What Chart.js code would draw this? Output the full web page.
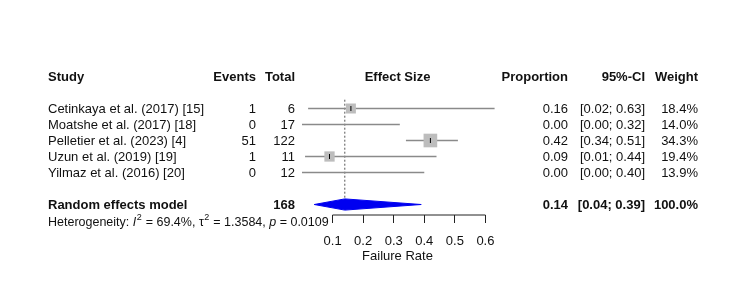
<!DOCTYPE html>
<html>
<head>
<meta charset="utf-8">
<script src="https://cdn.jsdelivr.net/npm/chart.js@4"></script>
<style>
  html, body { margin: 0; padding: 0; background: #fff; }
  canvas { display: block; }
</style>
</head>
<body>
<canvas id="forestChart" width="750" height="302"></canvas>
<script>
// Study data
const studyNames = [
    'Cetinkaya et al. (2017) [15]',
    'Moatshe et al. (2017) [18]',
    'Pelletier et al. (2023) [4]',
    'Uzun et al. (2019) [19]',
    'Yilmaz et al. (2016) [20]'
];
const events = [1, 0, 51, 1, 0];
const totals = [6, 17, 122, 11, 12];
const proportions = [0.16, 0.00, 0.42, 0.09, 0.00];
const ciLower = [0.02, 0.00, 0.34, 0.01, 0.00];
const ciUpper = [0.63, 0.32, 0.51, 0.44, 0.40];
const weights = [18.4, 14.0, 34.3, 19.4, 13.9];

// Pooled (random effects) result
const pooledLabel = 'Random effects model';
const pooledTotal = 168;
const pooledEstimate = 0.14;
const pooledLower = 0.04;
const pooledUpper = 0.39;
const pooledWeight = 100.0;

// Heterogeneity
const hetI2 = '69.4%';
const hetTau2 = '1.3584';
const hetP = '0.0109';

// Axis
const xTicks = [0.1, 0.2, 0.3, 0.4, 0.5, 0.6];
const xTitle = 'Failure Rate';
const headers = ['Study', 'Events', 'Total', 'Effect Size', 'Proportion', '95%-CI', 'Weight'];

const FONT = "'Liberation Sans', Arial, sans-serif";
const FS = 13;
const HEADER_ROW = 0;
const FIRST_STUDY_ROW = 2;
const POOLED_ROW = 8;
const HET_ROW = 9;
const Y_MIN = -1;
const Y_MAX = 8.656;

const fmt2 = v => v.toFixed(2);
const fmtCI = (lo, hi) => `[${fmt2(lo)}; ${fmt2(hi)}]`;

// Build datasets (first dataset is drawn on top)
const datasets = [];

const estPoints = [];
const boxPoints = [];
const boxRadius = [];
studyNames.forEach((name, i) => {
    if (events[i] > 0) {
        estPoints.push({ x: proportions[i], y: FIRST_STUDY_ROW + i });
        boxPoints.push({ x: proportions[i], y: FIRST_STUDY_ROW + i });
        const side = 2.33 * Math.sqrt(weights[i]);
        boxRadius.push(side / Math.SQRT2);
    }
});

// small black tick at each estimate
datasets.push({
    data: estPoints,
    pointStyle: 'line',
    rotation: 90,
    pointRadius: 2.5,
    borderColor: '#000',
    borderWidth: 1,
    clip: false
});

// weight boxes
datasets.push({
    data: boxPoints,
    pointStyle: 'rect',
    pointRadius: boxRadius,
    backgroundColor: '#bdbdbd',
    borderWidth: 0,
    clip: false
});

// confidence interval lines
studyNames.forEach((name, i) => {
    datasets.push({
        data: [
            { x: ciLower[i], y: FIRST_STUDY_ROW + i },
            { x: ciUpper[i], y: FIRST_STUDY_ROW + i }
        ],
        showLine: true,
        borderColor: '#8a8a8a',
        borderWidth: 1.6,
        pointRadius: 0,
        clip: false
    });
});

// pooled diamond
datasets.push({
    data: [
        { x: pooledLower, y: POOLED_ROW },
        { x: pooledEstimate, y: POOLED_ROW - 0.35 },
        { x: pooledUpper, y: POOLED_ROW },
        { x: pooledEstimate, y: POOLED_ROW + 0.35 },
        { x: pooledLower, y: POOLED_ROW }
    ],
    showLine: true,
    fill: 'shape',
    backgroundColor: '#0000f0',
    borderColor: '#0000f0',
    borderWidth: 1,
    pointRadius: 0,
    clip: false
});

// dashed line at pooled estimate
datasets.push({
    data: [
        { x: pooledEstimate, y: 1.45 },
        { x: pooledEstimate, y: POOLED_ROW - 0.3 }
    ],
    showLine: true,
    borderColor: '#555',
    borderWidth: 1,
    borderDash: [2, 2],
    pointRadius: 0,
    clip: false
});

// x axis line from first to last tick
datasets.push({
    data: [
        { x: xTicks[0], y: Y_MAX },
        { x: xTicks[xTicks.length - 1], y: Y_MAX }
    ],
    showLine: true,
    borderColor: '#222',
    borderWidth: 1,
    pointRadius: 0,
    clip: false
});

// Text table drawn next to the plot
const tablePlugin = {
    id: 'forestTable',
    afterDraw(chart) {
        const ctx = chart.ctx;
        const yScale = chart.scales.y;
        const rowY = r => yScale.getPixelForValue(r) + 1.3;
        const col = { study: 48, events: 256, total: 295, effect: 397.5, prop: 568, ci: 645, weight: 698 };

        function text(str, x, y, align, bold) {
            ctx.font = (bold ? 'bold ' : '') + FS + 'px ' + FONT;
            ctx.textAlign = align;
            ctx.fillText(str, x, y);
        }

        ctx.save();
        ctx.fillStyle = '#111';
        ctx.textBaseline = 'middle';

        // headers
        let y = rowY(HEADER_ROW);
        text(headers[0], col.study, y, 'left', true);
        text(headers[1], col.events, y, 'right', true);
        text(headers[2], col.total, y, 'right', true);
        text(headers[3], col.effect, y, 'center', true);
        text(headers[4], col.prop, y, 'right', true);
        text(headers[5], col.ci, y, 'right', true);
        text(headers[6], col.weight, y, 'right', true);

        // studies
        studyNames.forEach((name, i) => {
            y = rowY(FIRST_STUDY_ROW + i);
            text(name, col.study, y, 'left', false);
            text(String(events[i]), col.events, y, 'right', false);
            text(String(totals[i]), col.total, y, 'right', false);
            text(fmt2(proportions[i]), col.prop, y, 'right', false);
            text(fmtCI(ciLower[i], ciUpper[i]), col.ci, y, 'right', false);
            text(weights[i].toFixed(1) + '%', col.weight, y, 'right', false);
        });

        // pooled row
        y = rowY(POOLED_ROW);
        text(pooledLabel, col.study, y, 'left', true);
        text(String(pooledTotal), col.total, y, 'right', true);
        text(fmt2(pooledEstimate), col.prop, y, 'right', true);
        text(fmtCI(pooledLower, pooledUpper), col.ci, y, 'right', true);
        text(pooledWeight.toFixed(1) + '%', col.weight, y, 'right', true);

        // heterogeneity line
        y = rowY(HET_ROW) + 0.5;
        const parts = [
            ['Heterogeneity: ', ''],
            ['I', 'italic'],
            ['2', 'sup'],
            [' = ' + hetI2 + ', ', ''],
            ['\u03c4', ''],
            ['2', 'sup'],
            [' = ' + hetTau2 + ', ', ''],
            ['p', 'italic'],
            [' = ' + hetP, '']
        ];
        let x = col.study;
        ctx.textAlign = 'left';
        parts.forEach(([str, style]) => {
            if (style === 'sup') {
                ctx.font = '9px ' + FONT;
                ctx.fillText(str, x + 0.5, y - 5);
                x += ctx.measureText(str).width + 1;
            } else {
                ctx.font = (style === 'italic' ? 'italic ' : '') + '12.5px ' + FONT;
                ctx.fillText(str, x, y);
                x += ctx.measureText(str).width;
            }
        });

        // axis title
        ctx.font = FS + 'px ' + FONT;
        ctx.textAlign = 'center';
        ctx.fillText(xTitle, col.effect, 256);

        ctx.restore();
    }
};

new Chart(document.getElementById('forestChart'), {
    type: 'scatter',
    data: { datasets: datasets },
    options: {
        responsive: false,
        animation: false,
        layout: {
            padding: { top: 60.5, left: 302, right: 249.3, bottom: 0 }
        },
        plugins: {
            legend: { display: false },
            tooltip: { enabled: false }
        },
        scales: {
            x: {
                type: 'linear',
                min: 0,
                max: 0.65,
                afterBuildTicks: scale => {
                    scale.ticks = xTicks.map(v => ({ value: v }));
                },
                afterFit: scale => {
                    scale.height = 87;
                },
                grid: {
                    display: true,
                    drawOnChartArea: false,
                    drawTicks: true,
                    tickLength: 8,
                    color: '#222',
                    lineWidth: 1
                },
                border: { display: false },
                ticks: {
                    color: '#111',
                    font: { family: FONT, size: FS },
                    padding: 10.5,
                    maxRotation: 0,
                    autoSkip: false,
                    callback: v => Number(v).toFixed(1)
                }
            },
            y: {
                type: 'linear',
                reverse: true,
                min: Y_MIN,
                max: Y_MAX,
                display: false
            }
        }
    },
    plugins: [tablePlugin]
});
</script>
</body>
</html>
